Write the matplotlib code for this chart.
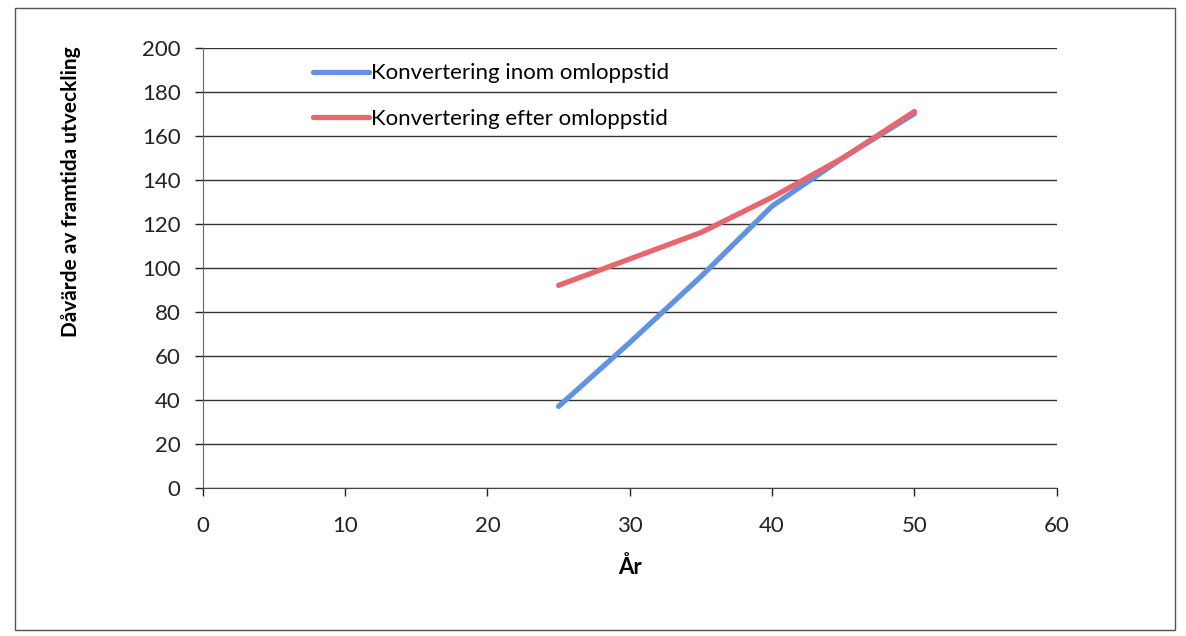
import matplotlib
matplotlib.use("Agg")
import matplotlib.pyplot as plt
from matplotlib.patches import Rectangle

years = [25, 30, 35, 40, 45, 50]
inom = [37, 66, 96, 128, 150, 170]
efter = [92, 104, 116, 132, 150, 171]
labels = ["Konvertering inom omloppstid", "Konvertering efter omloppstid"]
xticks = [0, 10, 20, 30, 40, 50, 60]
yticks = [0, 20, 40, 60, 80, 100, 120, 140, 160, 180, 200]

plt.rcParams['font.family'] = ['Lato', 'DejaVu Sans']

fig = plt.figure(figsize=(11.86, 6.36), dpi=100)
fig.patch.set_facecolor('white')
ax = fig.add_axes([0.171, 0.233, 0.72, 0.692])

ax.plot(years, inom, color='#6193E0', lw=3.8, solid_capstyle='round', label=labels[0], zorder=3)
ax.plot(years, efter, color='#E8666E', lw=3.8, solid_capstyle='round', label=labels[1], zorder=3)

ax.set_xlim(0, 60)
ax.set_ylim(0, 200)
ax.set_xticks(xticks)
ax.set_yticks(yticks)
ax.tick_params(axis='both', labelsize=16, colors='#222222', length=6, width=1, direction='out')
ax.tick_params(axis='y', pad=10)
ax.tick_params(axis='x', pad=14)
ax.yaxis.grid(True, color='#333333', lw=1)
ax.set_axisbelow(True)
for s in ['top', 'right']:
    ax.spines[s].set_visible(False)
ax.spines['left'].set_color('#666666')
ax.spines['bottom'].set_color('#444444')

ax.set_xlabel('År', fontsize=16, fontweight='bold', labelpad=15)
ax.set_ylabel('Dåvärde av framtida utveckling', fontsize=15, fontweight='bold')
ax.yaxis.set_label_coords(-0.143, 0.673)

leg = ax.legend(loc='upper left', bbox_to_anchor=(0.106, 1.01), frameon=False, fontsize=16,
                handlelength=2.5, handletextpad=0.1, labelspacing=1.15)

fig.add_artist(Rectangle((0.013, 0.01), 0.978, 0.977, transform=fig.transFigure,
                         fill=False, edgecolor='#555555', lw=1))

fig.savefig('out.png', dpi=100, facecolor='white')
